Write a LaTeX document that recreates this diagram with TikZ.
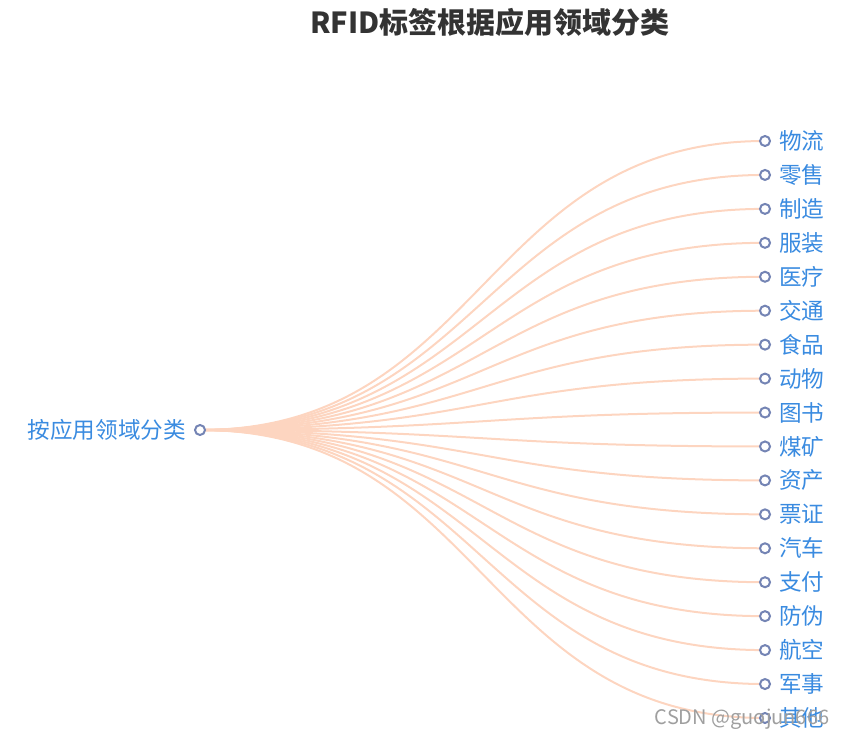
\documentclass[tikz,border=0pt]{standalone}
\usepackage{fontspec}
\setmainfont{Noto Sans CJK SC}
\usetikzlibrary{positioning,backgrounds}
\definecolor{peach}{HTML}{FDD5C0}
\definecolor{dotink}{HTML}{7484B4}
\definecolor{lblblue}{HTML}{3A8BE0}
\definecolor{titleink}{HTML}{333333}

\begin{document}
\begin{tikzpicture}[x=1pt,y=-1pt,
  dot/.style={circle,draw=dotink,line width=2pt,fill=white,inner sep=0pt,minimum size=10pt},
  leaftext/.style={text=lblblue,font=\fontsize{22.6}{22.6}\selectfont,inner sep=0pt},
  branch/.style={draw=peach,line width=2pt}]
\useasboundingbox (0,0) rectangle (848,741);
\node[font=\fontsize{29}{29}\selectfont\bfseries,text=titleink] (title) at (490,22) {RFID标签根据应用领域分类};
\node[dot] (root) at (200,430) {};
\node[leaftext,left=8pt of root] (rootlbl) {按应用领域分类};
% leaves, top to bottom
\foreach \name [count=\i] in {物流,零售,制造,服装,医疗,交通,食品,动物,图书,煤矿,资产,票证,汽车,支付,防伪,航空,军事,其他}{
  \pgfmathsetmacro\yy{141+(\i-1)*33.94}
  \node[dot] (l\i) at (765,\yy) {};
  \node[leaftext,right=8pt of l\i] (t\i) {\name};
  \begin{scope}[on background layer]
    \draw[branch] (root.center) .. controls (482.5,430) and (482.5,\yy) .. (l\i.center);
  \end{scope}
}
\node[text=gray!75,font=\fontsize{20}{20}\selectfont] (mark) at (742,719) {CSDN @guojun666};
\end{tikzpicture}
\end{document}
